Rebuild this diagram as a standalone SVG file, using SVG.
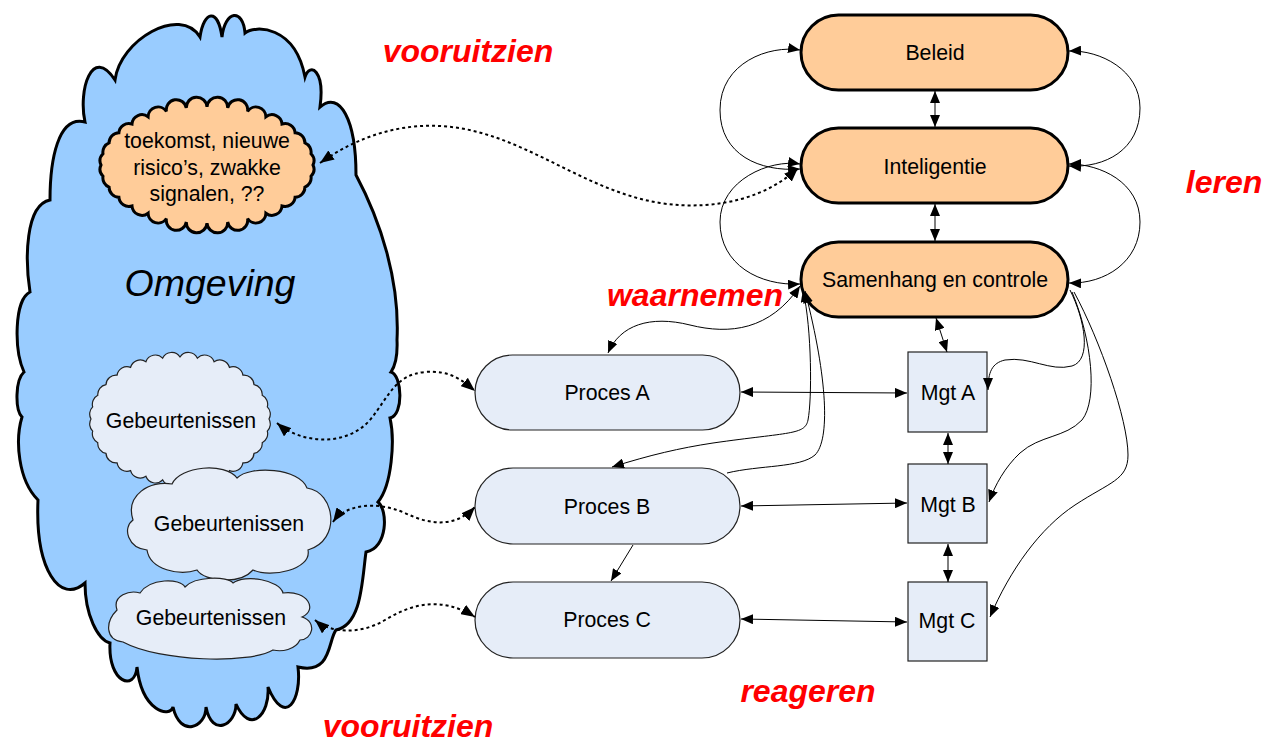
<svg xmlns="http://www.w3.org/2000/svg" width="1266" height="745" viewBox="0 0 1266 745">
<style>
.t{font-family:"Liberation Sans",Arial,sans-serif;font-size:21.3px;fill:#000;text-anchor:middle}
.red{font-family:"Liberation Sans",Arial,sans-serif;font-size:32px;font-weight:bold;font-style:italic;fill:#FF0000;text-anchor:middle}
.orange{fill:#FFCC99;stroke:#000;stroke-width:3}
.pale{fill:#E6EDF8;stroke:#222;stroke-width:1.2}
.ln{fill:none;stroke:#000;stroke-width:1}
.dot{fill:none;stroke:#000;stroke-width:2;stroke-dasharray:3,3}
</style>
<defs>
<marker id="ah" viewBox="0 0 12 10" refX="12" refY="5" markerWidth="12" markerHeight="10" orient="auto-start-reverse" markerUnits="userSpaceOnUse"><path d="M0,0 L12,5 L0,10 Z" fill="#000"/></marker>
<marker id="ahd" viewBox="0 0 14 11" refX="14" refY="5.5" markerWidth="14" markerHeight="11" orient="auto-start-reverse" markerUnits="userSpaceOnUse"><path d="M0,0 L14,5.5 L0,11 Z" fill="#000"/></marker>
</defs>

<g id="omgeving">
<path d="M50,200 C50,160 58,115 85,122 C78,90 92,45 115,80 C120,40 180,5 200,37 C204,10 218,8 222,37 C225,10 243,8 245,33 C255,25 295,25 305,77 C310,62 325,70 320,107 C340,90 356,120 356,175 C380,220 400,280 397,340 Q398,362 391,372 C402,375 404,415 390,418 C395,440 392,485 378,502 C388,510 388,548 366,552 C362,580 362,625 336,630 C328,640 332,675 298,667 C302,700 285,728 268,687 C270,715 250,735 236,704 C236,725 212,738 206,707 C206,728 180,738 173,707 C170,718 142,712 137,667 C135,692 108,683 110,643 C98,640 85,615 85,583 C60,605 35,570 38,500 C18,480 15,440 22,417 C15,410 15,380 24,372 C14,350 14,300 30,292 C25,260 25,205 50,200 Z" fill="#99CCFF" stroke="#000" stroke-width="3"/>
<text x="210" y="296" style="font-family:'Liberation Sans',Arial,sans-serif;font-size:37.5px;font-style:italic;text-anchor:middle">Omgeving</text>
</g>

<g id="toekomst">
<path class="orange" d="M313,165 A10,10 0 0 1 311,176.3 A10,10 0 0 1 304.9,187.2 A10,10 0 0 1 295.1,197.2 A10,10 0 0 1 282,206 A10,10 0 0 1 265.9,213.2 A10,10 0 0 1 247.6,218.6 A10,10 0 0 1 227.7,221.9 A10,10 0 0 1 207,223 A10,10 0 0 1 186.3,221.9 A10,10 0 0 1 166.4,218.6 A10,10 0 0 1 148.1,213.2 A10,10 0 0 1 132,206 A10,10 0 0 1 118.9,197.2 A10,10 0 0 1 109.1,187.2 A10,10 0 0 1 103,176.3 A10,10 0 0 1 101,165 A10,10 0 0 1 103,153.7 A10,10 0 0 1 109.1,142.8 A10,10 0 0 1 118.9,132.8 A10,10 0 0 1 132,124 A10,10 0 0 1 148.1,116.8 A10,10 0 0 1 166.4,111.4 A10,10 0 0 1 186.3,108.1 A10,10 0 0 1 207,107 A10,10 0 0 1 227.7,108.1 A10,10 0 0 1 247.6,111.4 A10,10 0 0 1 265.9,116.8 A10,10 0 0 1 282,124 A10,10 0 0 1 295.1,132.8 A10,10 0 0 1 304.9,142.8 A10,10 0 0 1 311,153.7 A10,10 0 0 1 313,165 Z"/>
<text class="t" x="207" y="148">toekomst, nieuwe</text>
<text class="t" x="207" y="175">risico’s, zwakke</text>
<text class="t" x="207" y="201">signalen, ??</text>
</g>

<g id="gebeurtenissen1">
<path class="pale" stroke-width="1" d="M269,419 A10,10 0 0 1 267.3,431.1 A10,10 0 0 1 262.2,442.7 A10,10 0 0 1 254,453.4 A10,10 0 0 1 242.9,462.8 A10,10 0 0 1 229.4,470.6 A10,10 0 0 1 214.1,476.3 A10,10 0 0 1 197.4,479.8 A10,10 0 0 1 180,481 A10,10 0 0 1 162.6,479.8 A10,10 0 0 1 145.9,476.3 A10,10 0 0 1 130.6,470.6 A10,10 0 0 1 117.1,462.8 A10,10 0 0 1 106,453.4 A10,10 0 0 1 97.8,442.7 A10,10 0 0 1 92.7,431.1 A10,10 0 0 1 91,419 A10,10 0 0 1 92.7,406.9 A10,10 0 0 1 97.8,395.3 A10,10 0 0 1 106,384.6 A10,10 0 0 1 117.1,375.2 A10,10 0 0 1 130.6,367.4 A10,10 0 0 1 145.9,361.7 A10,10 0 0 1 162.6,358.2 A10,10 0 0 1 180,357 A10,10 0 0 1 197.4,358.2 A10,10 0 0 1 214.1,361.7 A10,10 0 0 1 229.4,367.4 A10,10 0 0 1 242.9,375.2 A10,10 0 0 1 254,384.6 A10,10 0 0 1 262.2,395.3 A10,10 0 0 1 267.3,406.9 A10,10 0 0 1 269,419 Z"/>
<text class="t" x="181" y="428">Gebeurtenissen</text>
</g>

<g id="gebeurtenissen2">
<path class="pale" stroke-width="1" d="M133,520 C125,495 150,480 172,484 C180,466 225,462 237,478 C250,465 300,468 307,488 C335,492 342,540 308,550 C312,570 270,578 253,570 C240,585 205,582 197,570 C180,576 150,570 147,550 C128,548 122,528 133,520 Z"/>
<text class="t" x="229" y="531">Gebeurtenissen</text>
</g>

<g id="gebeurtenissen3">
<path class="pale" stroke-width="1" d="M117,610 C112,595 130,590 140,593 C150,578 180,578 185,587 C195,576 228,576 233,583 C245,574 280,580 283,593 C308,590 318,610 302,617 C318,622 312,640 300,640 C295,650 282,652 273,650 C250,664 160,662 123,642 C105,640 105,622 117,610 Z"/>
<text class="t" x="211" y="625">Gebeurtenissen</text>
</g>

<g id="beleid">
<rect class="orange" x="801" y="15" width="267" height="75" rx="37.5"/>
<text class="t" x="935" y="60">Beleid</text>
</g>
<g id="inteligentie">
<rect class="orange" x="801" y="128" width="267" height="75" rx="37.5"/>
<text class="t" x="935" y="174">Inteligentie</text>
</g>
<g id="samenhang">
<rect class="orange" x="801" y="242" width="267" height="75" rx="37.5"/>
<text class="t" x="935" y="287">Samenhang en controle</text>
</g>

<g id="procesA">
<rect class="pale" x="475" y="355" width="265" height="75" rx="37.5"/>
<text class="t" x="607" y="400">Proces A</text>
</g>
<g id="procesB">
<rect class="pale" x="475" y="468" width="265" height="76" rx="38"/>
<text class="t" x="607" y="514">Proces B</text>
</g>
<g id="procesC">
<rect class="pale" x="475" y="582" width="265" height="76" rx="38"/>
<text class="t" x="607" y="627">Proces C</text>
</g>

<g id="mgtA">
<rect class="pale" x="908" y="352" width="79" height="80"/>
<text class="t" x="948" y="400">Mgt A</text>
</g>
<g id="mgtB">
<rect class="pale" x="908" y="464" width="79" height="79"/>
<text class="t" x="948" y="512">Mgt B</text>
</g>
<g id="mgtC">
<rect class="pale" x="908" y="582" width="79" height="79"/>
<text class="t" x="947" y="628">Mgt C</text>
</g>

<g id="connectors">
<path class="ln" d="M935,91 L935,127" marker-start="url(#ah)" marker-end="url(#ah)"/>
<path class="ln" d="M935,204 L935,241" marker-start="url(#ah)" marker-end="url(#ah)"/>
<path class="ln" d="M936,318 L947,352" marker-start="url(#ah)" marker-end="url(#ah)"/>
<path class="ln" d="M948,433 L948,464" marker-start="url(#ah)" marker-end="url(#ah)"/>
<path class="ln" d="M948,544 L948,582" marker-start="url(#ah)" marker-end="url(#ah)"/>
<path class="ln" d="M741,392 L907,393" marker-start="url(#ah)" marker-end="url(#ah)"/>
<path class="ln" d="M741,506 L907,503" marker-start="url(#ah)" marker-end="url(#ah)"/>
<path class="ln" d="M741,619 L907,622" marker-start="url(#ah)" marker-end="url(#ah)"/>
<path class="ln" d="M633,545 L611,581" marker-end="url(#ah)"/>
<path class="ln" d="M800,50 C770,45 720,62 720,110 C720,155 760,172 800,169" marker-start="url(#ah)" marker-end="url(#ah)"/>
<path class="ln" d="M800,164 C770,159 720,180 720,222 C720,265 760,286 800,284" marker-start="url(#ah)" marker-end="url(#ah)"/>
<path class="ln" d="M1069,51 C1100,50 1140,70 1140,108 C1140,150 1105,168 1069,166" marker-start="url(#ah)" marker-end="url(#ah)"/>
<path class="ln" d="M1069,164 C1100,164 1140,182 1140,222 C1140,262 1105,284 1069,283" marker-start="url(#ah)" marker-end="url(#ah)"/>
<path class="ln" d="M608,353 C620,325 650,315 690,325 C730,335 770,330 800,286" marker-start="url(#ah)" marker-end="url(#ah)"/>
<path class="ln" d="M803,290 C812,330 812,400 808,420 C805,435 790,432 713,443 C680,448 650,455 612,467" marker-start="url(#ah)" marker-end="url(#ah)"/>
<path class="ln" d="M727,473 C760,465 800,468 815,455 C830,440 828,380 805,291" marker-end="url(#ah)"/>
<path class="ln" d="M1070,290 C1085,320 1092,360 1072,366 C1050,372 1030,356 1005,360 C992,363 988,372 988,390" marker-end="url(#ah)"/>
<path class="ln" d="M1072,292 C1092,340 1098,400 1082,420 C1065,438 1040,435 1020,453 C1005,467 995,485 989,502" marker-end="url(#ah)"/>
<path class="ln" d="M1074,292 C1100,340 1128,420 1128,455 C1128,480 1110,482 1075,505 C1040,528 1010,570 990,617" marker-end="url(#ah)"/>
<path class="dot" d="M320,163 C360,135 400,124 440,126 C520,130 580,190 660,203 C720,212 770,195 798,168" marker-start="url(#ahd)" marker-end="url(#ahd)"/>
<path class="dot" d="M277,423 C300,443 345,448 370,420 C390,395 395,375 425,372 C450,370 462,380 475,391" marker-start="url(#ahd)" marker-end="url(#ahd)"/>
<path class="dot" d="M333,522 C345,505 375,500 405,513 C430,525 455,528 475,507" marker-start="url(#ahd)" marker-end="url(#ahd)"/>
<path class="dot" d="M315,620 C330,633 360,635 385,620 C410,605 440,595 475,617" marker-start="url(#ahd)" marker-end="url(#ahd)"/>
</g>

<g id="labels">
<text class="red" x="468" y="62">vooruitzien</text>
<text class="red" x="408" y="737">vooruitzien</text>
<text class="red" x="1224" y="193">leren</text>
<text class="red" x="695" y="306">waarnemen</text>
<text class="red" x="808" y="702">reageren</text>
</g>
</svg>
